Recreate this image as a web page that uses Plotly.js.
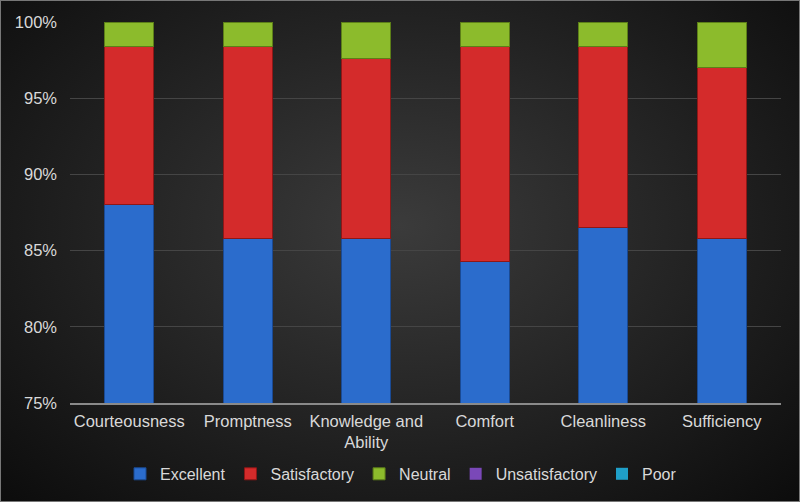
<!DOCTYPE html>
<html>
<head>
<meta charset="utf-8">
<script src="https://cdn.plot.ly/plotly-3.0.1.min.js"></script>
<style>
  html, body { margin: 0; padding: 0; background: #111; }
  #chart {
    width: 800px;
    height: 502px;
    box-sizing: border-box;
    border: 1px solid #777;
    background: radial-gradient(ellipse at 50% 45%, #3b3b3b 0%, #262626 45%, #0c0c0c 100%);
  }
</style>
</head>
<body>
<div id="chart"></div>
<script>
const categories = ['Courteousness', 'Promptness', 'Knowledge and<br>Ability', 'Comfort', 'Cleanliness', 'Sufficiency'];
const excellent = [88.0, 85.8, 85.8, 84.3, 86.5, 85.8];
const satisfactory = [10.4, 12.6, 11.8, 14.1, 11.9, 11.2];
const neutral = [1.6, 1.6, 2.4, 1.6, 1.6, 3.0];
const unsatisfactory = [0, 0, 0, 0, 0, 0];
const poor = [0, 0, 0, 0, 0, 0];

const SERIES = [
  { name: 'Excellent', y: excellent, color: '#2b6ccc', line: '#1a4a94', lw: 1 },
  { name: 'Satisfactory', y: satisfactory, color: '#d42b2b', line: '#8e1717', lw: 1 },
  { name: 'Neutral', y: neutral, color: '#8cbb2c', line: '#5c7f18', lw: 1 },
  { name: 'Unsatisfactory', y: unsatisfactory, color: '#7a48b8', line: '#533080', lw: 0 },
  { name: 'Poor', y: poor, color: '#1f9fc8', line: '#136f8c', lw: 0 },
];

const data = SERIES.map(s => ({
  type: 'bar',
  name: s.name,
  x: categories,
  y: s.y,
  marker: { color: s.color, line: { color: s.line, width: s.lw } },
  width: 0.41,
}));

const layout = {
  width: 800,
  height: 502,
  barmode: 'stack',
  paper_bgcolor: 'rgba(0,0,0,0)',
  plot_bgcolor: 'rgba(0,0,0,0)',
  margin: { l: 69, r: 20, t: 21, b: 100 },
  font: { family: 'Liberation Sans, Arial, sans-serif', color: '#d9d9d9', size: 16.5 },
  xaxis: {
    showgrid: false,
    showline: true,
    linecolor: '#8a8a8a',
    linewidth: 2,
    ticks: '',
    ticklabelstandoff: 2,
    tickfont: { size: 16.5, color: '#d9d9d9' },
  },
  yaxis: {
    range: [75, 100],
    dtick: 5,
    ticksuffix: '%',
    showgrid: true,
    gridcolor: '#454545',
    gridwidth: 1,
    zeroline: false,
    showline: false,
    ticks: '',
    ticklabelstandoff: 12,
    tickfont: { size: 16.5, color: '#d9d9d9' },
  },
  legend: {
    orientation: 'h',
    x: 0.5,
    xref: 'container',
    xanchor: 'center',
    y: 0.058,
    yref: 'container',
    yanchor: 'middle',
    font: { size: 16, color: '#d9d9d9' },
    itemwidth: 30,
    traceorder: 'normal',
  },
  showlegend: true,
};

Plotly.newPlot('chart', data, layout, { displayModeBar: false, staticPlot: true });
</script>
</body>
</html>
